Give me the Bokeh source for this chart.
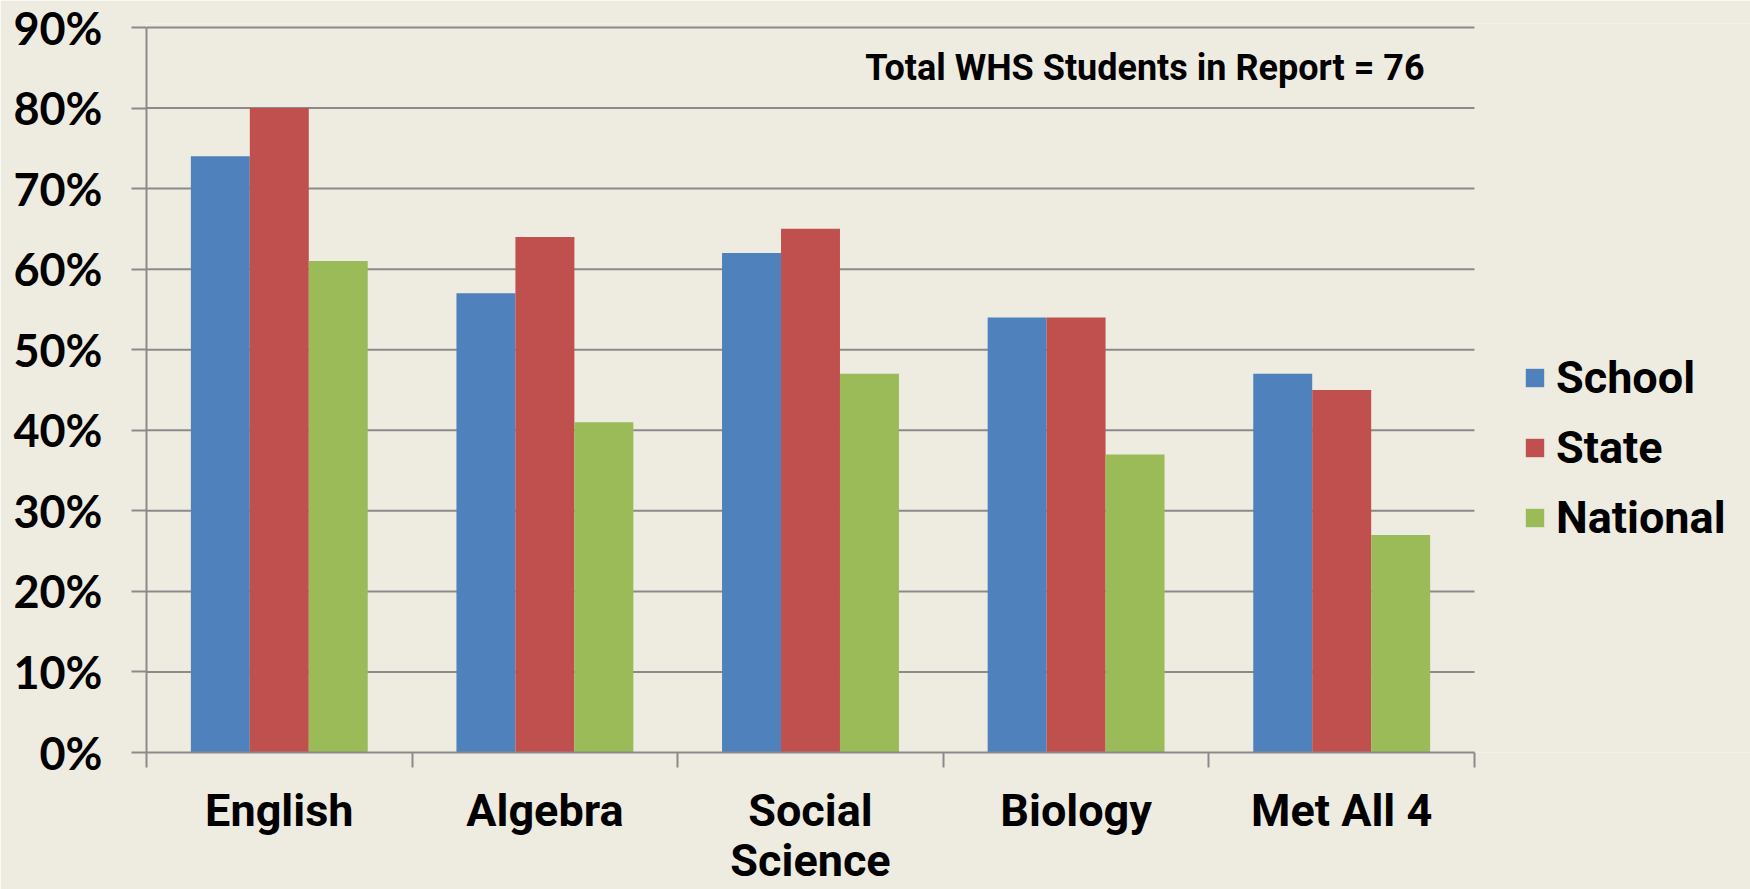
import numpy as np
from bokeh.plotting import figure
from bokeh.models import (ColumnDataSource, Range1d, FixedTicker, NumeralTickFormatter,
                          Label, Legend, LegendItem)
from bokeh.embed import file_html
from bokeh.resources import INLINE

categories = ["English", "Algebra", "Social Science", "Biology", "Met All 4"]
category_labels = ["English", "Algebra", "Social\nScience", "Biology", "Met All 4"]
school = [0.74, 0.57, 0.62, 0.54, 0.47]
state = [0.80, 0.64, 0.65, 0.54, 0.45]
national = [0.61, 0.41, 0.47, 0.37, 0.27]
series_names = ["School", "State", "National"]
y_ticks = [0.0, 0.1, 0.2, 0.3, 0.4, 0.5, 0.6, 0.7, 0.8, 0.9]
note_text = "Total WHS Students in Report = 76"

BG = "#EEECE1"
GRID = "#8A8A8A"
COLORS = ["#4F81BD", "#C0504D", "#9BBB59"]
FONT = "Roboto"
NUM_FONT = "Lato"

W, H = 1750, 889
LEFT, TOP, BOTTOM = 146, 23, 132
PLOT_W = 1328          # width of the category area in px
n = len(categories)
centers = np.arange(n) + 0.5
bar_w = 0.222
y_max = y_ticks[-1]
frame_w = W - LEFT
frame_h = H - TOP - BOTTOM

p = figure(width=W, height=H, output_backend="svg", toolbar_location=None,
           x_range=Range1d(0, n * frame_w / PLOT_W),
           y_range=Range1d(0, y_max * frame_h / (frame_h - 4)),
           min_border_left=LEFT, min_border_right=0, min_border_top=TOP,
           min_border_bottom=BOTTOM)
p.background_fill_color = BG
p.border_fill_color = BG
p.outline_line_color = None
p.xgrid.grid_line_color = None
p.ygrid.grid_line_color = None

# horizontal gridlines, only across the category area
p.segment(x0=0, x1=n, y0=y_ticks[1:], y1=y_ticks[1:], line_color=GRID, line_width=2)

renderers = []
for i, vals in enumerate([school, state, national]):
    src = ColumnDataSource(dict(x=centers + (i - 1) * bar_w, top=vals))
    r = p.vbar(x="x", top="top", bottom=0, width=bar_w, source=src,
               fill_color=COLORS[i], line_color=None)
    renderers.append(r)

# y axis
ya = p.yaxis[0]
ya.bounds = (0, y_max)
ya.ticker = FixedTicker(ticks=y_ticks)
ya.formatter = NumeralTickFormatter(format="0%")
ya.axis_line_color = GRID
ya.axis_line_width = 2
ya.major_tick_line_color = GRID
ya.major_tick_line_width = 2
ya.major_tick_out = 15
ya.major_tick_in = 0
ya.minor_tick_line_color = None
ya.major_label_text_font = NUM_FONT
ya.major_label_text_font_style = "bold"
ya.major_label_text_font_size = "45px"
ya.major_label_text_color = "black"
ya.major_label_standoff = 29

# x axis: labels at centers, ticks at category boundaries
xa = p.xaxis[0]
xa.bounds = (0, n)
xa.ticker = FixedTicker(ticks=list(centers), minor_ticks=list(range(n + 1)))
xa.major_label_overrides = {float(c): lab for c, lab in zip(centers, category_labels)}
xa.axis_line_color = GRID
xa.axis_line_width = 2
xa.major_tick_line_color = None
xa.minor_tick_line_color = GRID
xa.minor_tick_line_width = 2
xa.minor_tick_out = 15
xa.minor_tick_in = 0
xa.major_tick_out = 15
xa.major_tick_in = 0
xa.major_label_text_font = FONT
xa.major_label_text_font_style = "bold"
xa.major_label_text_font_size = "45px"
xa.major_label_text_line_height = 0.95
xa.major_label_text_color = "black"
xa.major_label_standoff = 16

# note
p.add_layout(Label(x=4.812, y=0.8495, text=note_text, text_align="right",
                   text_baseline="alphabetic",
                   text_font=FONT, text_font_style="bold",
                   text_font_size="36px", text_color="black"))

# legend
lg = Legend(items=[LegendItem(label=nm, renderers=[r]) for nm, r in zip(series_names, renderers)],
            location=(1377, 208))
lg.background_fill_alpha = 0
lg.border_line_color = None
lg.padding = 0
lg.margin = 0
lg.label_text_font = FONT
lg.label_text_font_style = "bold"
lg.label_text_font_size = "45px"
lg.label_text_color = "black"
lg.glyph_width = 23
lg.glyph_height = 23
lg.label_height = 53
lg.spacing = 17
lg.label_standoff = 10
p.add_layout(lg)

open("out.html", "w").write(file_html(p, INLINE))
